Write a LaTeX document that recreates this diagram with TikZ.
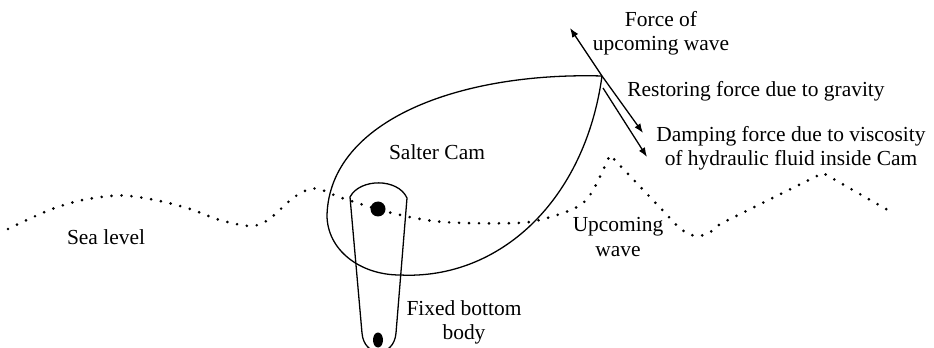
\documentclass[tikz,border=0pt]{standalone}
\usepackage{fontspec}
\setmainfont{Liberation Serif}
\usepackage{tikz}
\usetikzlibrary{calc,arrows.meta}
\tikzset{>={Latex[length=8pt,width=6pt]}}

\begin{document}
\begin{tikzpicture}[x=0.03cm,y=-0.03cm,line width=1.1pt,
    txt/.style={align=center,inner sep=0pt,font=\fontsize{18.3}{20.5}\selectfont},
    sealine/.style={line width=2.5pt,line cap=round,dash pattern=on 0pt off 8.5pt}]
       \clip (0,0) rectangle (934,348);
       % the cam, pointed at the top right
       \coordinate (tip) at (602,76);
       \draw (tip) .. controls (460,72) and (330,120) .. (327,215)
             .. controls (327,250) and (360,275) .. (400,275)
             .. controls (500,280) and (585,200) .. (tip);
       % fixed body with its pivot
       \draw (350,197) .. controls (360,178) and (398,178) .. (407,198) -- (396,333)
             .. controls (394,358) and (364,358) .. (362,333) -- cycle;
       \fill (378,209) circle [radius=7.5];
       \fill (378,340) ellipse [x radius=5, y radius=7.5];
       % water surface
       \draw[sealine] plot[smooth,tension=0.55] coordinates {(8,229) (47,211) (78,201) (110,196)
             (130,196) (160,201) (190,209) (220,220) (250,226) (268,220) (293,198) (310,189)
             (322,190) (342,198) (392,213) (443,222) (517,223) (547,218) (577,207) (592,192)
             (610,155)}
             -- (668,216) .. controls (688,240) and (702,242) .. (720,224) -- (823,173) -- (893,213);
       % forces at the tip
       \coordinate (fwave) at (570,28);
       \coordinate (fgrav) at (643,133);
       \coordinate (dstart) at (603,88);
       \coordinate (fdamp) at (647,157);
       \draw[->] (tip) -- (fwave);
       \draw[->] (tip) -- (fgrav);
       \draw[->] (dstart) -- (fdamp);
       \node[txt] (force) at (661,33) {Force of\\upcoming wave};
       \node[txt] (restore) at (756,91) {Restoring force due to gravity};
       \node[txt] (damp) at (791,148) {Damping force due to viscosity\\of hydraulic fluid inside Cam};
       \node[txt] (cam) at (437,152) {Salter Cam};
       \node[txt] (sea) at (106,237) {Sea level};
       \node[txt] (wave) at (618,237) {Upcoming\\wave};
       \node[txt] (body) at (464,322) {Fixed bottom\\body};
      \end{tikzpicture}
\end{document}
